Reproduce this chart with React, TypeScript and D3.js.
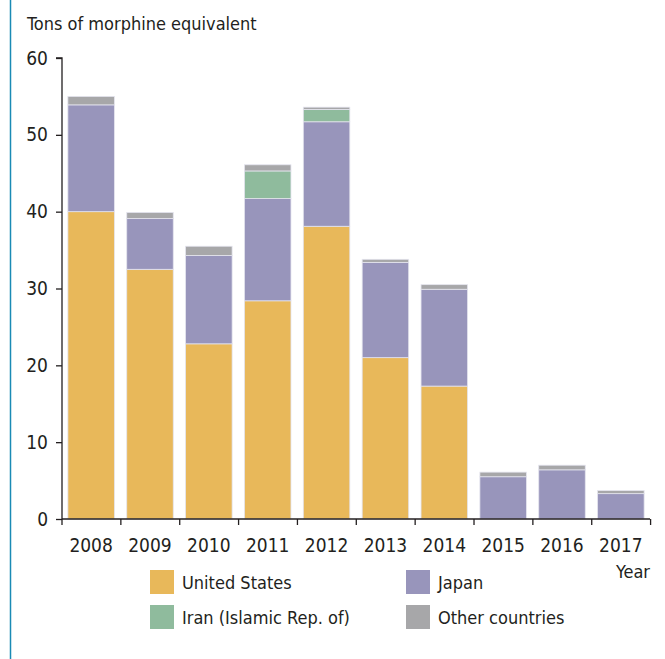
import { useEffect, useRef } from 'react';
import * as d3 from 'd3';

const years = ['2008', '2009', '2010', '2011', '2012', '2013', '2014', '2015', '2016', '2017'];
const unitedStates = [40.0, 32.5, 22.8, 28.4, 38.1, 21.0, 17.3, 0, 0, 0];
const japan = [13.9, 6.6, 11.5, 13.3, 13.6, 12.4, 12.6, 5.5, 6.4, 3.3];
const iran = [0, 0, 0, 3.6, 1.6, 0, 0, 0, 0, 0];
const otherCountries = [1.1, 0.8, 1.2, 0.8, 0.3, 0.4, 0.6, 0.6, 0.6, 0.4];
const yTicks = [0, 10, 20, 30, 40, 50, 60];

const seriesNames = ['United States', 'Japan', 'Iran (Islamic Rep. of)', 'Other countries'];
const seriesColors = ['#e8b85a', '#9895bb', '#8fbb9d', '#a7a7a9'];

const FONT = '"Liberation Sans Narrow", "DejaVu Sans Condensed", "Roboto", sans-serif';

export default function App() {
  const svgRef = useRef<SVGSVGElement>(null);

  useEffect(() => {
    if (!svgRef.current) {
      return;
    }
    const width = 665;
    const height = 659;
    const margin = { left: 62, right: 15, top: 58, bottom: 140 };

    const svg = d3.select(svgRef.current);
    svg.selectAll('*').remove();
    svg.attr('width', width).attr('height', height);

    // left frame rule
    svg.append('line')
      .attr('x1', 10.5).attr('x2', 10.5)
      .attr('y1', 0).attr('y2', height)
      .attr('stroke', '#1a8ab5').attr('stroke-width', 1.5);

    const x = d3.scaleBand<string>()
      .domain(years)
      .range([margin.left, width - margin.right])
      .paddingInner(0.21)
      .paddingOuter(0.1);

    const y = d3.scaleLinear()
      .domain([0, 60])
      .range([height - margin.bottom - 0, margin.top]);

    const rows = years.map((yr, i) => ({
      year: yr,
      s0: unitedStates[i],
      s1: japan[i],
      s2: iran[i],
      s3: otherCountries[i],
    }));

    const stack = d3.stack<(typeof rows)[number]>().keys(['s0', 's1', 's2', 's3']);
    const layers = stack(rows);

    const g = svg.append('g');
    layers.forEach((layer, li) => {
      g.append('g')
        .selectAll('rect')
        .data(layer)
        .enter()
        .append('rect')
        .filter((d) => d[1] - d[0] > 0)
        .attr('x', (d) => x(d.data.year) ?? 0)
        .attr('width', x.bandwidth())
        .attr('y', (d) => y(d[1]))
        .attr('height', (d) => y(d[0]) - y(d[1]))
        .attr('fill', seriesColors[li])
        .attr('stroke', '#e4e4ee')
        .attr('stroke-width', 0.8);
    });

    // y axis
    const yAxis = svg.append('g')
      .attr('transform', `translate(${margin.left},0)`)
      .call(d3.axisLeft(y).tickValues(yTicks).tickSize(6).tickPadding(8));
    yAxis.select('.domain').attr('stroke', '#231f20').attr('stroke-width', 1.3).attr('d', `M-6,${y(60)}H0V${y(0)}`);
    yAxis.selectAll('line').attr('stroke', '#231f20').attr('stroke-width', 1.3);
    yAxis.selectAll('text')
      .attr('font-family', FONT)
      .attr('font-size', 19)
      .attr('fill', '#231f20');

    // x axis with ticks at band edges
    const x0 = margin.left;
    const x1 = width - margin.right;
    const xAxis = svg.append('g').attr('transform', `translate(0,${y(0)})`);
    xAxis.append('line')
      .attr('x1', x0).attr('x2', x1)
      .attr('stroke', '#231f20').attr('stroke-width', 1.3);
    const step = x.step();
    const edges = d3.range(years.length + 1).map((i) => x0 + i * step);
    xAxis.selectAll('line.tick')
      .data(edges)
      .enter()
      .append('line')
      .attr('class', 'tick')
      .attr('x1', (d) => d).attr('x2', (d) => d)
      .attr('y1', 0).attr('y2', 6)
      .attr('stroke', '#231f20').attr('stroke-width', 1.3);
    xAxis.selectAll('text')
      .data(years)
      .enter()
      .append('text')
      .attr('x', (d) => (x(d) ?? 0) + x.bandwidth() / 2)
      .attr('y', 33)
      .attr('text-anchor', 'middle')
      .attr('font-family', FONT)
      .attr('font-size', 19)
      .attr('fill', '#231f20')
      .text((d) => d);

    svg.append('text')
      .attr('x', 650)
      .attr('y', 578)
      .attr('text-anchor', 'end')
      .attr('font-family', FONT)
      .attr('font-size', 18)
      .attr('fill', '#231f20')
      .text('Year');

    svg.append('text')
      .attr('x', 27)
      .attr('y', 30)
      .attr('font-family', FONT)
      .attr('font-size', 18)
      .attr('fill', '#231f20')
      .text('Tons of morphine equivalent');

    // legend
    const legendPos = [
      { x: 150, y: 570 },
      { x: 406, y: 570 },
      { x: 150, y: 605 },
      { x: 406, y: 605 },
    ];
    seriesNames.forEach((name, i) => {
      const lg = svg.append('g').attr('transform', `translate(${legendPos[i].x},${legendPos[i].y})`);
      lg.append('rect').attr('width', 24).attr('height', 24).attr('fill', seriesColors[i]);
      lg.append('text')
        .attr('x', 32)
        .attr('y', 19)
        .attr('font-family', FONT)
        .attr('font-size', 18)
        .attr('fill', '#231f20')
        .text(name);
    });
  }, []);

  return <svg ref={svgRef} style={{ position: 'absolute', left: 0, top: 0 }} />;
}
